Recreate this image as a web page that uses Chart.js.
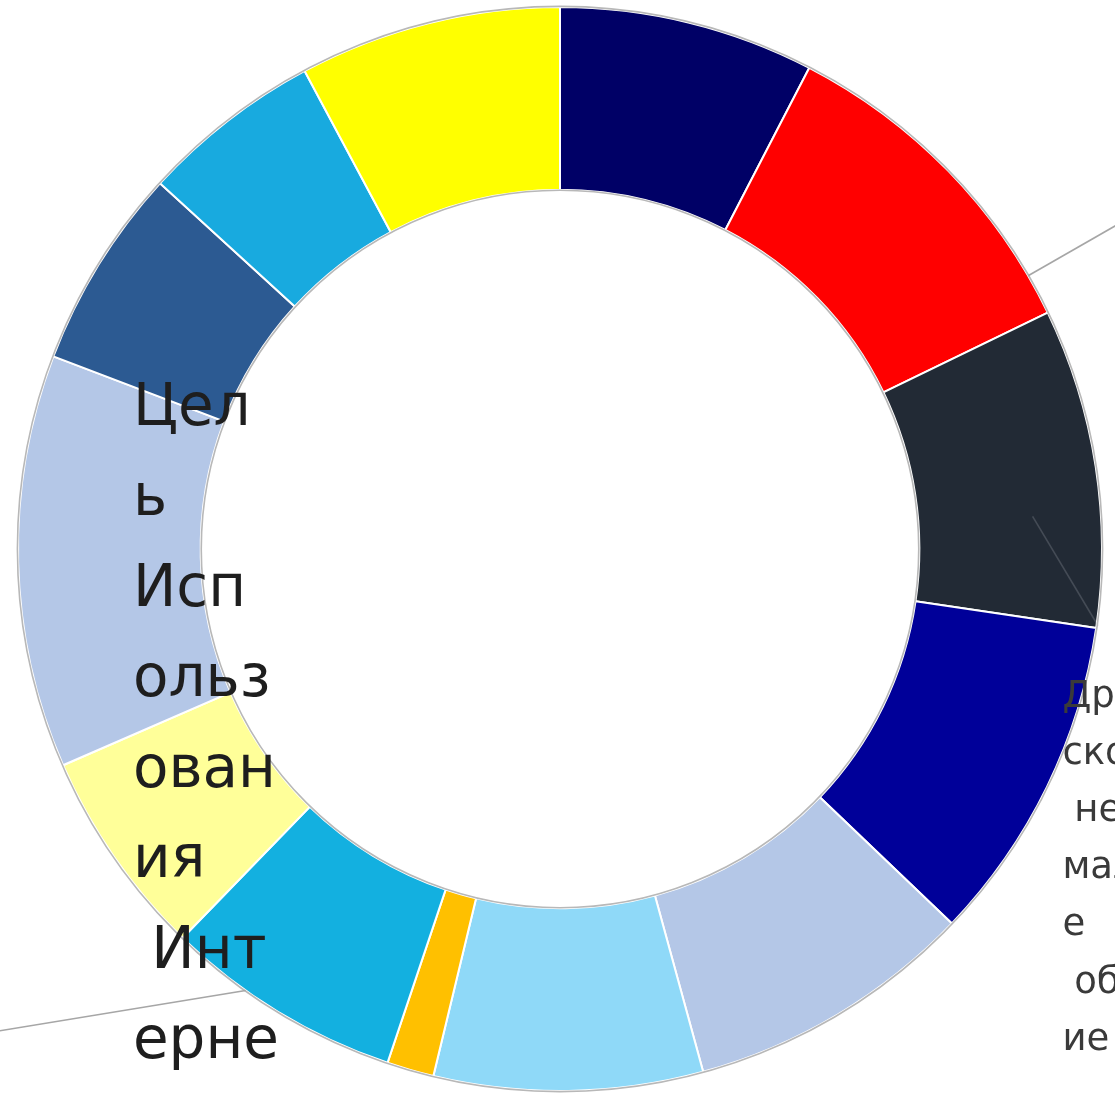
<!DOCTYPE html>
<html>
<head>
<meta charset="utf-8">
<script src="https://cdn.jsdelivr.net/npm/chart.js@4.4.1/dist/chart.umd.min.js"></script>
<style>
  html, body { margin: 0; padding: 0; background: #ffffff; overflow: hidden; }
  #wrap { width: 1115px; height: 1095px; }
</style>
</head>
<body>
<div id="wrap"><canvas id="chart" width="1115" height="1095"></canvas></div>
<script>
// Slices, clockwise from 12 o'clock
const categories = ['1', '2', '3', '4', '5', '6', '7', '8', '9', '10', '11', '12', '13'];
const shares = [7.6, 10.2, 9.5, 9.8, 8.6, 8.0, 1.4, 7.1, 6.2, 12.3, 6.0, 5.4, 7.8];
const sliceColors = [
  '#000066', '#ff0000', '#222a35', '#000099', '#b4c7e7', '#8fd9f8', '#ffc000',
  '#13b0e0', '#ffff99', '#b4c7e7', '#2c5a92', '#18aadf', '#ffff00'
];

// Data-label text, already broken into the lines the label box wraps to
const leftLabelLines = ['Цел', 'ь', 'Исп', 'ольз', 'ован', 'ия', ' Инт', 'ерне', 'та'];
const rightLabelLines = ['Друже', 'ское', ' нефор', 'мально', 'е', ' общен', 'ие'];

// Leader lines: slice index, position inside the slice (0..1 of its sweep),
// start radius as a fraction of the outer radius, and the far end in
// outer-radius units from the centre.
const leaders = [
  { slice: 7, t: 0.66, r: 1.0, end: [-1.046, 0.891], color: '#a6a6a6' },
  { slice: 1, t: 0.88, r: 1.0, end: [1.052, -0.612], color: '#a6a6a6' },
  { slice: 2, t: 0.64, r: 0.874, end: [0.993, 0.142], color: 'rgba(170,175,185,0.25)' }
];

// Label boxes in outer-radius units from the centre
const labelBoxes = [
  { lines: leftLabelLines, x: -0.788, y: -0.229, step: 0.1670, font: '58px "DejaVu Sans"', color: '#1e1e1e' },
  { lines: rightLabelLines, x: 0.927, y: 0.291, step: 0.1055, font: '37px "DejaVu Sans"', color: '#3a3a3a' }
];

const ringDecor = {
  id: 'ringDecor',
  afterDatasetsDraw(chart) {
    const meta = chart.getDatasetMeta(0);
    const first = meta.data[0];
    if (!first) return;
    const { x: cx, y: cy, outerRadius: R, innerRadius: r } = first.getProps(['x', 'y', 'outerRadius', 'innerRadius'], true);
    const ctx = chart.ctx;
    ctx.save();

    // soft grey rim on the outer and inner edge of the ring
    ctx.strokeStyle = '#b8b8b8';
    ctx.lineWidth = 1.6;
    ctx.beginPath();
    ctx.arc(cx, cy, R + 0.6, 0, Math.PI * 2);
    ctx.stroke();
    ctx.beginPath();
    ctx.arc(cx, cy, r - 0.6, 0, Math.PI * 2);
    ctx.stroke();

    // leader lines
    leaders.forEach(l => {
      const arc = meta.data[l.slice];
      const a = arc.startAngle + (arc.endAngle - arc.startAngle) * l.t;
      const sx = cx + Math.cos(a) * R * l.r;
      const sy = cy + Math.sin(a) * R * l.r;
      ctx.strokeStyle = l.color;
      ctx.lineWidth = 1.6;
      ctx.beginPath();
      ctx.moveTo(sx, sy);
      ctx.lineTo(cx + l.end[0] * R, cy + l.end[1] * R);
      ctx.stroke();
    });

    // data labels
    ctx.textAlign = 'left';
    ctx.textBaseline = 'alphabetic';
    labelBoxes.forEach(b => {
      ctx.font = b.font;
      ctx.fillStyle = b.color;
      b.lines.forEach((line, i) => {
        ctx.fillText(line, cx + b.x * R, cy + (b.y + b.step * i) * R);
      });
    });
    ctx.restore();
  }
};

new Chart(document.getElementById('chart'), {
  type: 'doughnut',
  data: {
    labels: categories,
    datasets: [{
      data: shares,
      backgroundColor: sliceColors,
      borderColor: '#ffffff',
      borderWidth: 2
    }]
  },
  options: {
    responsive: false,
    animation: false,
    devicePixelRatio: 1,
    cutout: '66.3%',
    layout: { padding: { left: 17, right: 12, top: 6, bottom: 3 } },
    plugins: {
      legend: { display: false },
      tooltip: { enabled: false },
      title: { display: false }
    }
  },
  plugins: [ringDecor]
});
</script>
</body>
</html>
